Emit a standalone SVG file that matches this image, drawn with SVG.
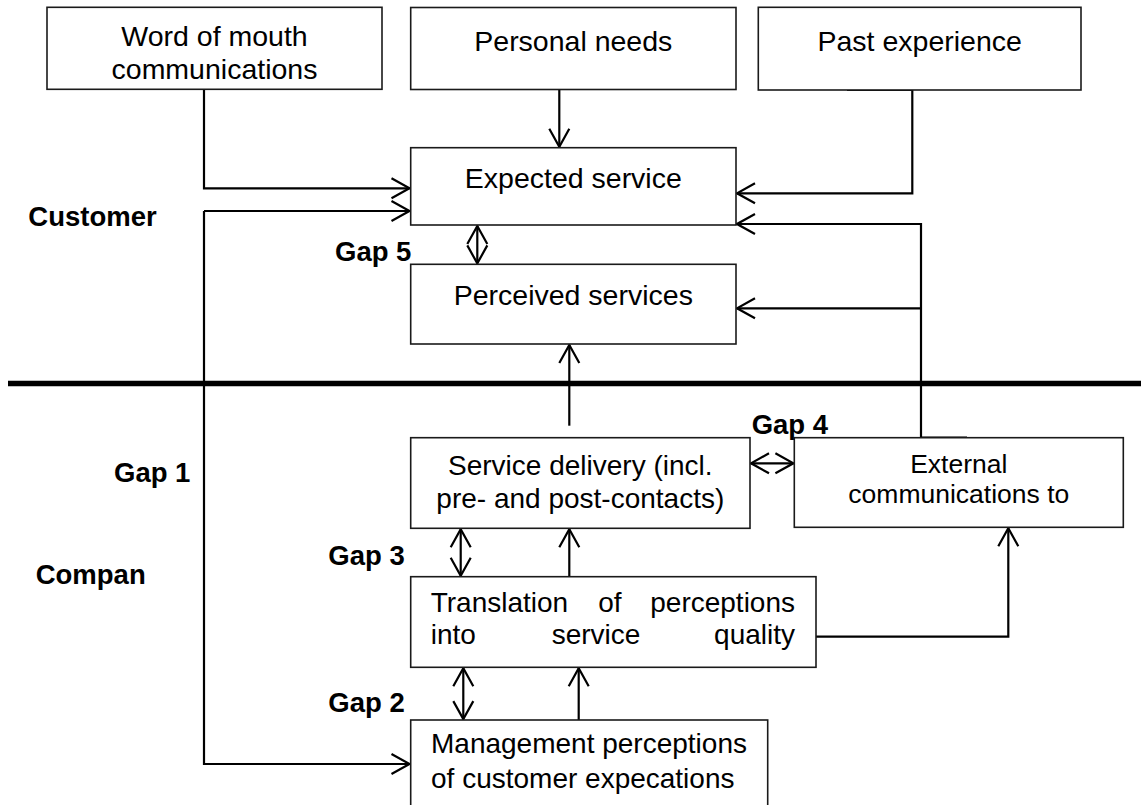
<svg xmlns="http://www.w3.org/2000/svg" width="1141" height="805" viewBox="0 0 1141 805">
<style>
  .box { fill: #fff; stroke: #1a1a1a; stroke-width: 1.6; }
  .t { font-family: "Liberation Sans", Arial, sans-serif; font-size: 28.5px; fill: #000; }
  .tm { text-anchor: middle; }
  .s28 { font-size: 28px; }
  .s26 { font-size: 26.5px; }
  .lbl { font-family: "Liberation Sans", Arial, sans-serif; font-size: 27.5px; font-weight: bold; fill: #000; }
  .c { fill: none; stroke: #000; stroke-width: 2.2; }
  .a { marker-end: url(#arr); }
  .aa { marker-start: url(#arr); marker-end: url(#arr); }
</style>
<defs>
  <marker id="arr" viewBox="-21 -12 23 24" refX="0" refY="0" markerWidth="23" markerHeight="24" markerUnits="userSpaceOnUse" orient="auto-start-reverse">
    <path d="M -18 -10 L 0 0 L -18 10" fill="none" stroke="#000" stroke-width="2.2"/>
  </marker>
  <filter id="blur" x="-5%" y="-200%" width="110%" height="500%">
    <feGaussianBlur stdDeviation="1.6"/>
  </filter>
</defs>
<rect width="1141" height="805" fill="#fff"/>

<g id="divider">
  <line x1="9" y1="388.5" x2="1141" y2="388.5" stroke="#8a8a8a" stroke-width="4" filter="url(#blur)"/>
  <line x1="8" y1="383.5" x2="1141" y2="383.5" stroke="#000" stroke-width="5.5"/>
</g>

<g id="connectors">
  <path class="c a" d="M 204 89.5 V 188.3 H 409.5"/>
  <path class="c a" d="M 204 211 H 409.5"/>
  <path class="c a" d="M 204 211 V 764 H 409.5"/>
  <path class="c a" d="M 559.3 89.5 V 146.8"/>
  <path class="c a" d="M 847 90 H 912.3 V 193.3 H 737"/>
  <path class="c a" d="M 967 437.7 H 921 V 224 H 737"/>
  <path class="c a" d="M 921 308.3 H 737"/>
  <path class="c a" d="M 569.3 425.7 V 345"/>
  <path class="c aa" d="M 477.3 226 V 263.4"/>
  <path class="c aa" d="M 751 463.3 H 793.4"/>
  <path class="c aa" d="M 460.7 529.2 V 575.8"/>
  <path class="c a" d="M 569.3 576.7 V 529.2"/>
  <path class="c aa" d="M 463.3 668.2 V 719.1"/>
  <path class="c a" d="M 578.7 720 V 668.2"/>
  <path class="c a" d="M 816 636.7 H 1008.3 V 528.2"/>
</g>

<g id="word-of-mouth">
  <rect class="box" x="47" y="7.3" width="335" height="82"/>
  <text class="t tm" x="214.5" y="45.7">Word of mouth</text>
  <text class="t tm" x="214.5" y="79">communications</text>
</g>
<g id="personal-needs">
  <rect class="box" x="410.7" y="7.5" width="325.3" height="82"/>
  <text class="t tm" x="573.3" y="51">Personal needs</text>
</g>
<g id="past-experience">
  <rect class="box" x="758.3" y="7.3" width="322.7" height="82.7"/>
  <text class="t tm" x="919.7" y="50.7">Past experience</text>
</g>
<g id="expected-service">
  <rect class="box" x="410.7" y="147.7" width="325.3" height="77.3"/>
  <text class="t tm" x="573.3" y="188.3">Expected service</text>
</g>
<g id="perceived-services">
  <rect class="box" x="410.7" y="264.3" width="325.3" height="79.7"/>
  <text class="t tm" x="573.3" y="305">Perceived services</text>
</g>
<g id="service-delivery">
  <rect class="box" x="410.7" y="437.7" width="339.3" height="90.6"/>
  <text class="t tm s28" x="580.3" y="475">Service delivery (incl.</text>
  <text class="t tm s28" x="580.3" y="507.7">pre- and post-contacts)</text>
</g>
<g id="external-communications">
  <rect class="box" x="794.3" y="437.7" width="329" height="89.6"/>
  <text class="t tm s26" x="958.8" y="472.7">External</text>
  <text class="t tm s26" x="958.8" y="502.7">communications to</text>
</g>
<g id="translation">
  <rect class="box" x="410.7" y="576.7" width="405.3" height="90.6"/>
  <text class="t s28" x="430.7" y="612">Translation</text>
  <text class="t s28" x="598.3" y="612">of</text>
  <text class="t s28" x="795" y="612" text-anchor="end">perceptions</text>
  <text class="t s28" x="430.7" y="644">into</text>
  <text class="t s28" x="551.7" y="644">service</text>
  <text class="t s28" x="795" y="644" text-anchor="end">quality</text>
</g>
<g id="management">
  <rect class="box" x="410.7" y="720" width="357" height="95"/>
  <text class="t s28" x="431" y="753.3">Management perceptions</text>
  <text class="t s28" x="431" y="787.5">of customer expecations</text>
</g>

<g id="labels">
  <text class="lbl" x="28.3" y="225.7">Customer</text>
  <text class="lbl" x="335" y="260.7">Gap 5</text>
  <text class="lbl" x="751.7" y="434.3">Gap 4</text>
  <text class="lbl" x="114" y="481.7">Gap 1</text>
  <text class="lbl" x="328.3" y="565">Gap 3</text>
  <text class="lbl" x="35.7" y="584.3">Compan</text>
  <text class="lbl" x="328.3" y="711.7">Gap 2</text>
</g>
</svg>
